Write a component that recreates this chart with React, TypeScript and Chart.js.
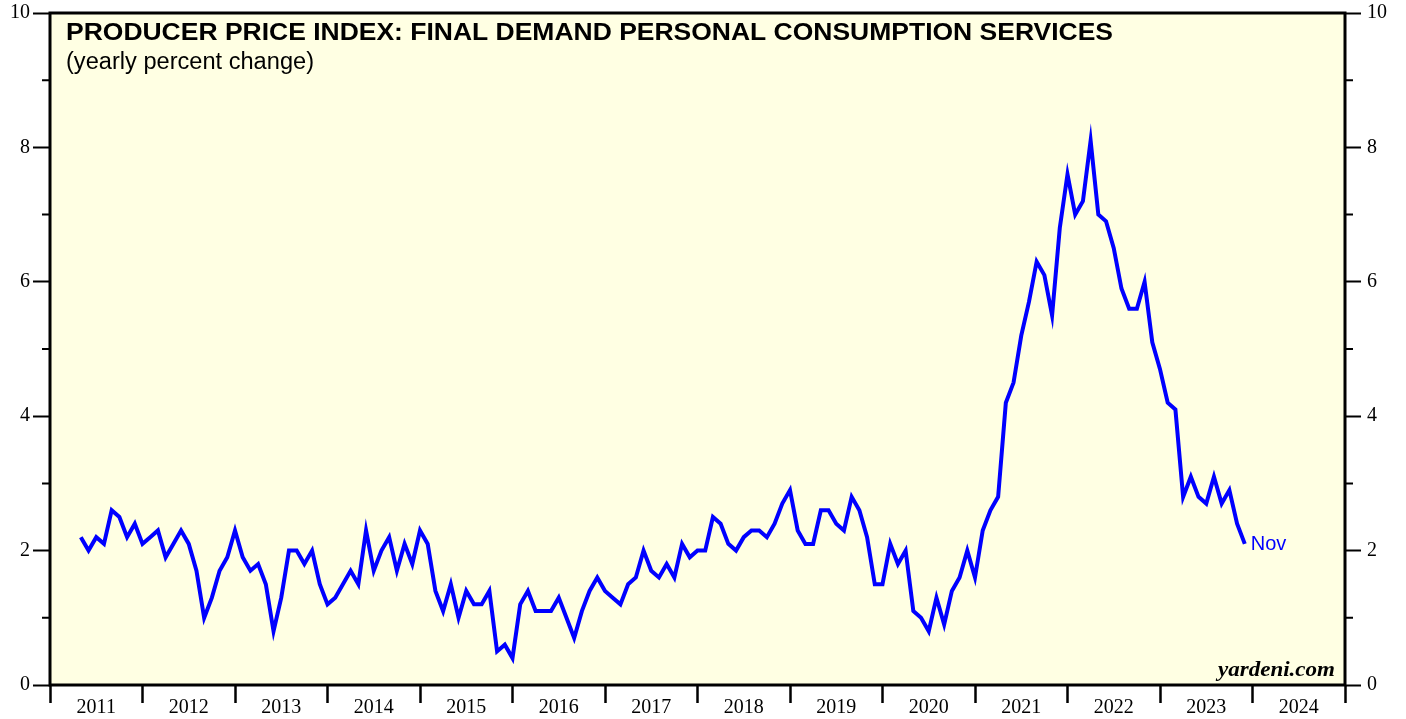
import React, { useEffect, useRef } from "react";
import { Chart, registerables } from "chart.js";

Chart.register(...registerables);

// Yearly percent change, monthly observations (Apr 2011 - Nov 2023)
const v2011 = [2.2, 2.0, 2.2, 2.1, 2.6, 2.5, 2.2, 2.4, 2.1];
const v2012 = [2.2, 2.3, 1.9, 2.1, 2.3, 2.1, 1.7, 1.0, 1.3, 1.7, 1.9, 2.3];
const v2013 = [1.9, 1.7, 1.8, 1.5, 0.8, 1.3, 2.0, 2.0, 1.8, 2.0, 1.5, 1.2];
const v2014 = [1.3, 1.5, 1.7, 1.5, 2.3, 1.7, 2.0, 2.2, 1.7, 2.1, 1.8, 2.3];
const v2015 = [2.1, 1.4, 1.1, 1.5, 1.0, 1.4, 1.2, 1.2, 1.4, 0.5, 0.6, 0.4];
const v2016 = [1.2, 1.4, 1.1, 1.1, 1.1, 1.3, 1.0, 0.7, 1.1, 1.4, 1.6, 1.4];
const v2017 = [1.3, 1.2, 1.5, 1.6, 2.0, 1.7, 1.6, 1.8, 1.6, 2.1, 1.9, 2.0];
const v2018 = [2.0, 2.5, 2.4, 2.1, 2.0, 2.2, 2.3, 2.3, 2.2, 2.4, 2.7, 2.9];
const v2019 = [2.3, 2.1, 2.1, 2.6, 2.6, 2.4, 2.3, 2.8, 2.6, 2.2, 1.5, 1.5];
const v2020 = [2.1, 1.8, 2.0, 1.1, 1.0, 0.8, 1.3, 0.9, 1.4, 1.6, 2.0, 1.6];
const v2021 = [2.3, 2.6, 2.8, 4.2, 4.5, 5.2, 5.7, 6.3, 6.1, 5.5, 6.8, 7.6];
const v2022 = [7.0, 7.2, 8.1, 7.0, 6.9, 6.5, 5.9, 5.6, 5.6, 6.0, 5.1, 4.7];
const v2023 = [4.2, 4.1, 2.8, 3.1, 2.8, 2.7, 3.1, 2.7, 2.9, 2.4, 2.1];

const series = [
  ...v2011, ...v2012, ...v2013, ...v2014, ...v2015, ...v2016, ...v2017,
  ...v2018, ...v2019, ...v2020, ...v2021, ...v2022, ...v2023,
];

// months from the start of 2011 at which the first observation is plotted (end of April)
const firstMonth = 4;

const yearLabels = [
  "2011", "2012", "2013", "2014", "2015", "2016", "2017",
  "2018", "2019", "2020", "2021", "2022", "2023", "2024",
];
const yTickValues = [0, 2, 4, 6, 8, 10];
const yMinorTickValues = [1, 3, 5, 7, 9];

const titleText = "PRODUCER PRICE INDEX: FINAL DEMAND PERSONAL CONSUMPTION SERVICES";
const subtitleText = "(yearly percent change)";
const sourceText = "yardeni.com";
const lastLabel = "Nov";

const SERIF = "'Liberation Serif', 'Times New Roman', Times, serif";
const SANS = "'Liberation Sans', Arial, Helvetica, sans-serif";

const drawScaledText = (
  ctx: CanvasRenderingContext2D,
  text: string,
  x: number,
  y: number,
  font: string,
  targetWidth: number,
  align: "left" | "right"
) => {
  ctx.save();
  ctx.font = font;
  const w = ctx.measureText(text).width;
  const sx = targetWidth / w;
  ctx.translate(align === "left" ? x : x - targetWidth, y);
  ctx.scale(sx, 1);
  ctx.textAlign = "left";
  ctx.textBaseline = "alphabetic";
  ctx.fillText(text, 0, 0);
  ctx.restore();
};

const framePlugin = {
  id: "frameDecor",
  beforeDraw(chart: any) {
    const { ctx, chartArea: a } = chart;
    ctx.save();
    ctx.fillStyle = "#FFFFE3";
    ctx.fillRect(a.left, a.top, a.right - a.left, a.bottom - a.top);
    ctx.restore();
  },
  afterDraw(chart: any) {
    const { ctx, chartArea: a } = chart;
    const yScale = chart.scales.y;
    const xScale = chart.scales.x;
    ctx.save();
    // minor ticks
    ctx.strokeStyle = "#000";
    ctx.lineWidth = 2;
    yMinorTickValues.forEach((v) => {
      const py = yScale.getPixelForValue(v);
      ctx.beginPath();
      ctx.moveTo(a.left - 8, py);
      ctx.lineTo(a.left, py);
      ctx.moveTo(a.right, py);
      ctx.lineTo(a.right + 8, py);
      ctx.stroke();
    });
    // frame
    ctx.lineWidth = 3;
    ctx.strokeRect(a.left, a.top, a.right - a.left, a.bottom - a.top);

    // texts
    ctx.fillStyle = "#000";
    drawScaledText(ctx, titleText, a.left + 16, a.top + 26.5, `bold 23px ${SANS}`, 1047, "left");
    drawScaledText(ctx, subtitleText, a.left + 16, a.top + 56, `23px ${SANS}`, 248, "left");
    drawScaledText(ctx, sourceText, a.right - 10, a.bottom - 9, `bold italic 20px ${SERIF}`, 117, "right");

    // last value label
    const lastIdx = series.length - 1;
    const lx = xScale.getPixelForValue(firstMonth + lastIdx);
    const ly = yScale.getPixelForValue(series[lastIdx]);
    ctx.fillStyle = "#0000FF";
    ctx.font = `20px ${SANS}`;
    ctx.textAlign = "left";
    ctx.textBaseline = "middle";
    ctx.fillText(lastLabel, lx + 6, ly + 1);
    ctx.restore();
  },
};

export default function App() {
  const canvasRef = useRef<HTMLCanvasElement | null>(null);

  useEffect(() => {
    const canvas = canvasRef.current;
    if (!canvas) return;
    const points = series.map((v, i) => ({ x: firstMonth + i, y: v }));
    const tickFont = { family: SERIF, size: 20 };
    const noPad = (s: any) => {
      s.paddingTop = 0;
      s.paddingBottom = 0;
      s.paddingLeft = 0;
      s.paddingRight = 0;
    };
    const chart = new Chart(canvas, {
      type: "line",
      data: {
        datasets: [
          {
            data: points,
            borderColor: "#0000FF",
            borderWidth: 4,
            pointRadius: 0,
            tension: 0,
            fill: false,
            yAxisID: "y",
            xAxisID: "x",
          },
        ],
      },
      options: {
        animation: false,
        responsive: false,
        devicePixelRatio: 1,
        events: [],
        layout: { padding: { top: 13, left: 0, right: 0, bottom: 0 } },
        plugins: {
          legend: { display: false },
          tooltip: { enabled: false },
          title: { display: false },
        },
        scales: {
          x: {
            type: "linear",
            min: 0,
            max: yearLabels.length * 12,
            afterBuildTicks: (s: any) => {
              s.ticks = Array.from({ length: yearLabels.length * 2 + 1 }, (_, k) => ({ value: k * 6 }));
            },
            afterFit: (s: any) => {
              s.height = 34;
              noPad(s);
            },
            grid: {
              drawOnChartArea: false,
              drawTicks: true,
              tickLength: 18,
              tickWidth: 2.5,
              color: "rgba(0,0,0,0)",
              tickColor: (c: any) => (c.tick && c.tick.value % 12 === 0 ? "#000" : "rgba(0,0,0,0)"),
            },
            border: { display: false },
            ticks: {
              autoSkip: false,
              maxRotation: 0,
              minRotation: 0,
              padding: -7,
              color: "#000",
              font: tickFont,
              callback: (v: any) => {
                const n = Number(v);
                return n % 12 === 6 ? yearLabels[(n - 6) / 12] : "";
              },
            },
          },
          y: {
            position: "left",
            min: 0,
            max: 10,
            afterBuildTicks: (s: any) => {
              s.ticks = yTickValues.map((v) => ({ value: v }));
            },
            afterFit: (s: any) => {
              s.width = 50;
              noPad(s);
            },
            grid: {
              drawOnChartArea: false,
              tickLength: 17,
              tickWidth: 2,
              tickColor: "#000",
            },
            border: { display: false },
            ticks: { padding: 3, color: "#000", font: tickFont },
          },
          y2: {
            position: "right",
            min: 0,
            max: 10,
            afterBuildTicks: (s: any) => {
              s.ticks = yTickValues.map((v) => ({ value: v }));
            },
            afterFit: (s: any) => {
              s.width = 61;
              noPad(s);
            },
            grid: {
              drawOnChartArea: false,
              tickLength: 16,
              tickWidth: 2,
              tickColor: "#000",
            },
            border: { display: false },
            ticks: { padding: 6, color: "#000", font: tickFont },
          },
        },
      } as any,
      plugins: [framePlugin],
    });
    return () => chart.destroy();
  }, []);

  return (
    <div style={{ position: "absolute", left: 0, top: 0, width: 1406, height: 719, background: "#fff" }}>
      <canvas ref={canvasRef} width={1406} height={719} style={{ display: "block", width: 1406, height: 719 }} />
    </div>
  );
}
